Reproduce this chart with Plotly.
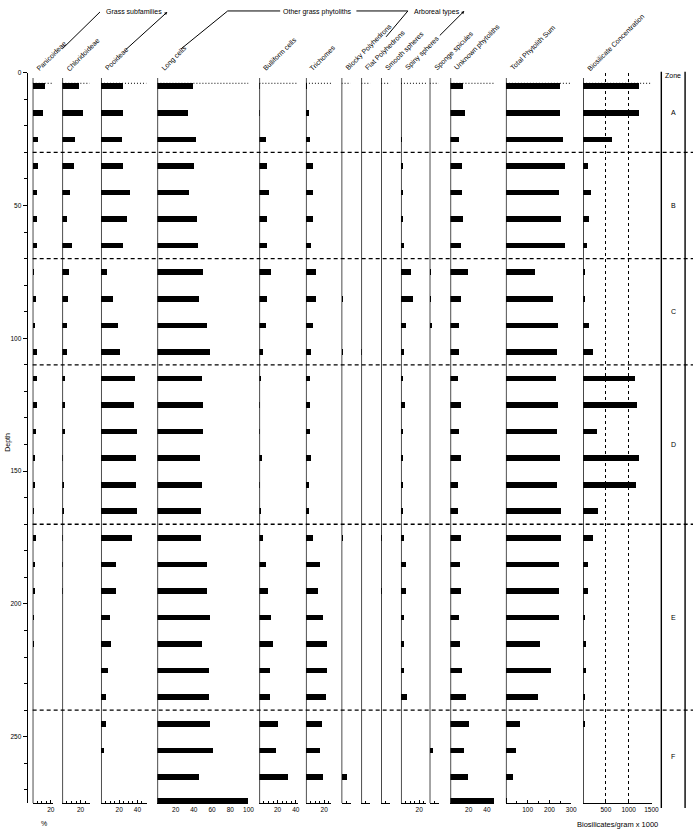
import plotly.graph_objects as go

W, H = 700, 830

# sample depths (the last row is the 100% reference bar drawn on the bottom axis)
depth = [5, 15, 25, 35, 45, 55, 65, 75, 85, 95, 105, 115, 125, 135,
         145, 155, 165, 175, 185, 195, 205, 215, 225, 235, 245, 255, 265, 274]

panicoideae = [13, 10.5, 5.6, 5.3, 3.9, 4.2, 4.9, 1, 2.8, 2, 3.9, 4.9, 4.6, 2.8,
               2.1, 2.1, 0.7, 2.8, 1.8, 2.1, 1, 1, 0, 0, 0, 0, 0, 0]
chloridoideae = [18.5, 23.3, 14.4, 13.7, 8.9, 5.9, 11.5, 7.8, 7, 5.2, 5.9, 3, 3, 3,
                 1, 2.5, 2.2, 0.5, 0.5, 0.7, 0, 0, 0, 0, 0, 0, 0, 0]
pooideae = [24, 24.6, 23.6, 24, 31.8, 28.9, 24.3, 6.8, 12.9, 18.2, 21, 37.5, 36, 40,
            38.6, 38.6, 39.6, 34, 16.8, 16, 10, 11.4, 7.9, 5.7, 5, 3.6, 0, 0]
long_cells = [39.3, 34.2, 42.3, 40.8, 34.6, 43.4, 44.9, 50, 46, 55.1, 58.5, 49.3, 50.7, 50.7,
              46.7, 48.9, 48.2, 47.8, 54.8, 55.1, 58.5, 49.3, 57.4, 57.4, 58.1, 61.8, 46, 100]
bulliform = [1, 0.7, 7.6, 8.4, 10.9, 8.4, 8.4, 13.1, 8.4, 7.6, 4, 1.8, 1.1, 1.1,
             3.6, 1.1, 1.8, 4, 7.6, 9.5, 12.7, 15.6, 12, 12, 21, 18.5, 32.2, 0]
trichomes = [0.5, 3.8, 4.5, 7.2, 7.9, 7.2, 5.7, 10.6, 11.3, 7.9, 6, 4.9, 4.5, 4.5,
             6, 3.8, 3.4, 7.2, 15.8, 13.6, 18.9, 23, 23, 22.3, 17, 15.8, 19, 0]
blocky = [0, 0, 0, 0, 0, 0, 0, 0, 0.5, 0, 0.3, 0, 0, 0,
          0, 0, 0, 0.3, 0, 0, 0, 0, 0, 0, 0, 0, 5, 0]
flat = [0, 0, 0, 0, 0, 0, 0, 0, 0, 0, 0.6, 0, 0, 0,
        0, 0, 0, 0, 0, 0, 0, 0, 0, 0, 0, 0, 0, 0]
smooth = [0, 0, 0, 0, 0, 0, 0, 0, 0, 0, 0, 0, 0, 0,
          0, 0, 0, 0.4, 0, 0.4, 0, 0, 0, 0, 0, 0, 0, 0]
spiny = [0, 0, 0.3, 1.7, 2, 2.4, 2.8, 11, 12.8, 5.9, 3.8, 1.7, 4.5, 1.7,
         1.7, 1.7, 1.4, 3.4, 5.2, 5.9, 3.4, 2.8, 3.8, 6.6, 0, 0, 0, 0]
sponge = [0, 0, 0, 0, 0, 0, 0, 0.7, 1, 1.3, 0, 0, 0, 0,
          0, 0, 0, 0, 0, 0, 0, 0, 0, 0, 0, 3.2, 0, 0]
unknown = [14, 16, 9.6, 13.7, 13.3, 14.8, 12, 20, 12, 9.6, 10.4, 8.5, 12.6, 10.4,
           12, 8.5, 9.2, 12.6, 10.7, 12, 10.4, 11.5, 13.7, 17, 20.7, 15.5, 19.3, 48]
total_sum = [248, 248, 260, 270, 245, 252, 273, 131, 218, 237, 236, 230, 239, 236,
             248, 236, 252, 251, 243, 243, 243, 158, 206, 146, 65, 45, 33, 3]
biosilicate = [1225, 1225, 642, 117, 182, 124, 80, 30, 44, 131, 212, 1138, 1189, 314,
               1233, 1167, 336, 226, 109, 109, 51, 66, 66, 30, 30, 0, 0, 0]

panel_names = ["Panicoideae", "Chloridoideae", "Pooideae", "Long cells", "Bulliform cells",
               "Trichomes", "Blocky Polyhedrons", "Flat Polyhedrons", "Smooth spheres",
               "Spiny spheres", "Sponge spicules", "Unknown phytoliths",
               "Total Phytolith Sum", "Biosilicate Concentration"]
panel_values = [panicoideae, chloridoideae, pooideae, long_cells, bulliform, trichomes,
                blocky, flat, smooth, spiny, sponge, unknown, total_sum, biosilicate]
panel_max = [22, 30, 50, 100, 42, 28, 10, 10, 10, 28, 10, 48, 300, 1510]
panel_ticks = [[20], [20], [20, 40], [20, 40, 60, 80, 100], [20, 40], [20],
               [], [], [], [20], [], [20, 40], [100, 200, 300], [500, 1000, 1500]]
panel_minor = [5, 5, 5, 10, 5, 5, 5, 5, 5, 5, 5, 5, 50, None]

zone_names = ["A", "B", "C", "D", "E", "F"]
zone_bounds = [0, 30, 70, 110, 170, 240, 275]

# layout in pixels
panel_left = [33, 63, 102, 159, 262, 309, 345, 365, 385, 405, 434, 455, 511, 589]
panel_right = [53.2, 90.6, 148, 251, 300.6, 334.8, 354.2, 374.2, 394.2, 430.8, 443.2,
               499.2, 577, 658.5]
Y_TOP, Y_BOT = 69, 803
FONT = "Liberation Sans"
TXT = dict(size=7, family=FONT, color="black")


def px(x):
    return x / W


def py(y):
    return 1 - y / H


def label(text, x, y, yref="paper", angle=0, size=None):
    font = dict(TXT, size=size) if size else TXT
    annotations.append(dict(text=text, xref="paper", yref=yref, x=x, y=y,
                            xanchor="center", yanchor="middle", textangle=angle,
                            showarrow=False, font=font))


fig = go.Figure()
shapes = []
annotations = []

for i, (name, vals, left, right, top, ticks, minor) in enumerate(
        zip(panel_names, panel_values, panel_left, panel_right, panel_max,
            panel_ticks, panel_minor), start=1):
    ax = "x" if i == 1 else "x%d" % i
    key = "xaxis" if i == 1 else "xaxis%d" % i
    fig.add_trace(go.Bar(y=depth, x=vals, orientation="h", xaxis=ax, yaxis="y",
                         width=2.1, marker=dict(color="black", line=dict(width=0)),
                         showlegend=False, name=name))
    axis = dict(domain=[px(left), px(right)], range=[0, top], anchor="y",
                showline=True, linecolor="black", linewidth=1,
                ticks="inside", ticklen=3, tickcolor="black",
                tickmode="array", tickvals=ticks, ticklabelstandoff=0,
                tickfont=dict(TXT, size=6.5),
                showgrid=False, zeroline=False, fixedrange=True)
    if minor:
        axis["minor"] = dict(ticks="inside", ticklen=2, dtick=minor, tick0=0,
                             tickcolor="black")
    if name == "Biosilicate Concentration":
        axis.update(showgrid=True, gridcolor="black", gridwidth=1, griddash="dot")
    fig.update_layout({key: axis})

    # panel baseline and dotted top line
    shapes.append(dict(type="line", xref=ax, yref="y", x0=0, x1=0, y0=2, y1=275,
                       line=dict(color="black", width=1.4)))
    shapes.append(dict(type="line", xref=ax, yref="y", x0=0, x1=top, y0=4, y1=4,
                       line=dict(color="black", width=1, dash="1px,2px")))
    annotations.append(dict(text=name, xref="paper", yref="paper",
                            x=px(left), y=py(71), xanchor="left", yanchor="bottom",
                            textangle=-45, showarrow=False, font=TXT))

# zone boundaries
for b in zone_bounds[1:-1]:
    shapes.append(dict(type="line", xref="paper", yref="y", x0=px(33), x1=1, y0=b, y1=b,
                       line=dict(color="black", width=1.3, dash="4px,3px")))
for zx in (668, 692):
    shapes.append(dict(type="line", xref="paper", yref="paper", x0=px(zx), x1=px(zx),
                       y0=py(68), y1=py(808), line=dict(color="black", width=1.4)))
for z, a, b in zip(zone_names, zone_bounds[:-1], zone_bounds[1:]):
    label(z, px(680), (a + b) / 2, yref="y")
label("Zone", px(680), py(72))


# group headers
def seg(x0, y0, x1, y1):
    shapes.append(dict(type="line", xref="paper", yref="paper", x0=px(x0), y0=py(y0),
                       x1=px(x1), y1=py(y1), line=dict(color="black", width=1)))


seg(63, 45, 101, 8)
seg(183, 45, 230, 7)
seg(230, 7, 283, 7)
seg(360, 7, 412, 7)
seg(412, 7, 390, 33)
for tx, ty, hx, hy in ((126, 47, 169, 8), (443, 33, 469, 7)):
    annotations.append(dict(text="", xref="paper", yref="paper", axref="pixel", ayref="pixel",
                            x=px(hx), y=py(hy), ax=tx - hx, ay=ty - hy, showarrow=True,
                            arrowhead=2, arrowsize=0.6, arrowwidth=1, arrowcolor="black"))
label("Grass subfamilies", px(135), py(8))
label("Other grass phytoliths", px(321), py(8))
label("Arboreal types", px(441), py(8))

label("Depth", px(8), py(440), angle=-90)
label("%", px(44), py(823))
label("Biosilicates/gram x 1000", px(624), py(824), size=7.5)

fig.update_layout(
    width=W, height=H,
    margin=dict(l=0, r=0, t=0, b=0),
    paper_bgcolor="white", plot_bgcolor="white",
    barmode="overlay", bargap=0,
    yaxis=dict(domain=[py(Y_BOT), py(Y_TOP)], range=[275, 0], anchor="free",
               position=px(27), showline=True, linecolor="black", linewidth=1.2,
               ticks="outside", ticklen=4, tickcolor="black",
               tickmode="array", tickvals=[0, 50, 100, 150, 200, 250],
               tickfont=dict(TXT, size=6.5),
               minor=dict(ticks="outside", ticklen=3, dtick=10, tick0=0, tickcolor="black"),
               showgrid=False, zeroline=False, fixedrange=True),
    shapes=shapes,
    annotations=annotations,
)

fig.write_html("out.html", config={"displayModeBar": False},
               post_script="document.body.style.margin='0';"
                           "document.body.style.overflow='hidden';")
